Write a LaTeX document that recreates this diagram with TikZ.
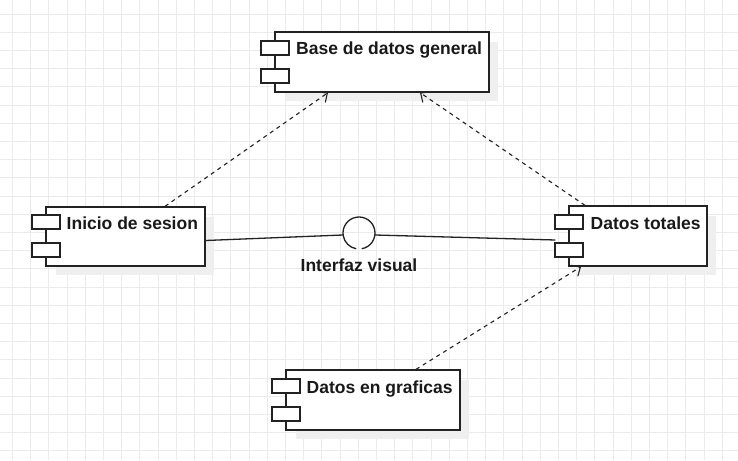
\documentclass[tikz,border=0pt]{standalone}
\usepackage{fontspec}
\setmainfont{Liberation Sans}
\usetikzlibrary{arrows.meta,calc}
\definecolor{gridc}{HTML}{EBEBEB}
\definecolor{shadowc}{HTML}{EFEFEF}
\definecolor{linec}{HTML}{222222}
\begin{document}
\begin{tikzpicture}[x=1pt,y=-1pt,
  gridline/.style={draw=gridc,line width=0.8pt},
  comp/.style={draw=linec,fill=white,line width=1.3pt,rectangle,inner sep=0pt},
  port/.style={draw=linec,fill=white,line width=1.3pt,rectangle,inner sep=0pt,minimum width=28pt,minimum height=14pt},
  lbl/.style={inner sep=0pt,font=\fontsize{17.5}{20}\selectfont\bfseries,text=black!90},
  dep/.style={draw=linec,line width=1.1pt,dash pattern=on 4pt off 4pt,-{Straight Barb[length=7pt,width=13pt,line width=1.1pt]}},
  conn/.style={draw=linec,line width=1.3pt}]
\useasboundingbox (0,0) rectangle (738,460);
\fill[white] (0,0) rectangle (738,460);
\foreach \i in {0,...,40} {
  \draw[gridline] ({12.3+\i*18.2},0) -- ({12.3+\i*18.2},460);
  \draw[gridline] (0,{14+\i*18.2}) -- (738,{14+\i*18.2});
}
% shadows
\fill[shadowc] (285,42) rectangle (498,101);
\fill[shadowc] (56,217) rectangle (214,275);
\fill[shadowc] (579,216) rectangle (716,275);
\fill[shadowc] (296,380) rectangle (469,439);
% components
\node[comp,minimum width=214pt,minimum height=60pt] (base) at (382,62) {};
\node[comp,minimum width=159pt,minimum height=59pt] (inicio) at (125.5,236.5) {};
\node[comp,minimum width=138pt,minimum height=60pt] (dt) at (638,236) {};
\node[comp,minimum width=174pt,minimum height=60pt] (graf) at (373,400) {};
% ports
\node[port] (basep1) at (275,48) {};
\node[port] (basep2) at (275,76) {};
\node[port] (inip1) at (46,222) {};
\node[port] (inip2) at (46,250) {};
\node[port] (dtp1) at (569,222) {};
\node[port] (dtp2) at (569,250) {};
\node[port] (grafp1) at (286,386) {};
\node[port] (grafp2) at (286,414) {};
% labels
\node[lbl,anchor=base west] (basel) at (296,55) {Base de datos general};
\node[lbl,anchor=base west] (inil) at (66.5,229) {Inicio de sesion};
\node[lbl,anchor=base west] (dtl) at (590.5,229) {Datos totales};
\node[lbl,anchor=base west] (grafl) at (306.5,393) {Datos en graficas};
% interface
\node[circle,minimum size=32pt,inner sep=0pt] (iface) at (359,233) {};
\draw[conn] ($(iface.center)+(80:16)$) arc[start angle=80,end angle=-260,radius=16];
\node[lbl,anchor=base] (ifacel) at (359,271) {Interfaz visual};
\draw[conn] ([yshift=-4]inicio.east) -- ([yshift=-2]iface.west);
\draw[conn] ([yshift=-2]iface.east) -- ([xshift=-13,yshift=-4]dt.west);
% dependencies
\draw[dep] ([xshift=39.5]inicio.north) -- ([xshift=-54]base.south);
\draw[dep] ([xshift=-53]dt.north) -- ([xshift=38]base.south);
\draw[dep] ([xshift=43]graf.north) -- ([xshift=-57]dt.south);
\end{tikzpicture}
\end{document}
